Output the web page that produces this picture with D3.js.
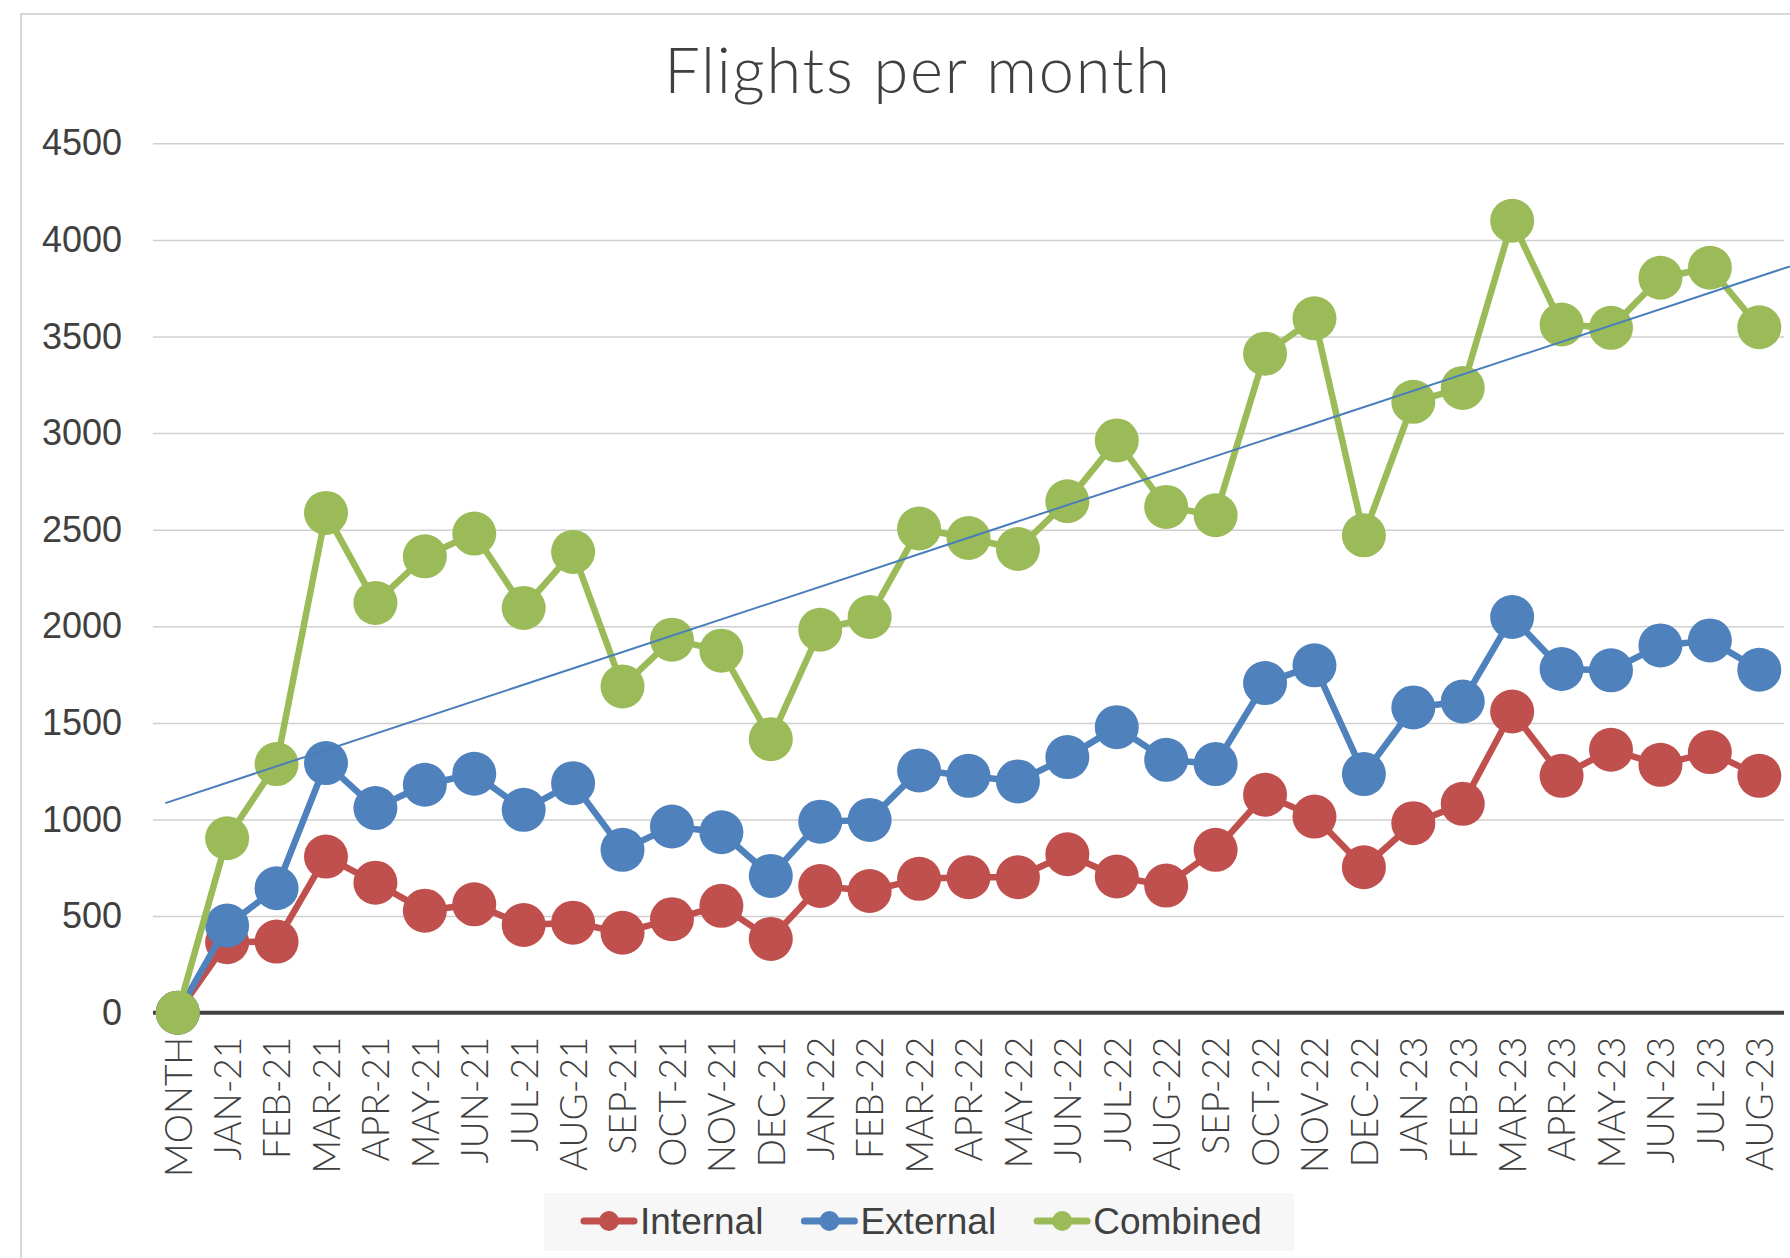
<!DOCTYPE html>
<html>
<head>
<meta charset="utf-8">
<script src="https://cdn.jsdelivr.net/npm/d3@7"></script>
<style>
body { margin:0; background:#fff; }
</style>
</head>
<body>
<div id="chart"></div>
<script>
//Set dimensions of svg
var w=1790;
var h=1258;

//Categories and series
var months=["MONTH","JAN-21","FEB-21","MAR-21","APR-21","MAY-21","JUN-21","JUL-21","AUG-21","SEP-21","OCT-21","NOV-21","DEC-21",
            "JAN-22","FEB-22","MAR-22","APR-22","MAY-22","JUN-22","JUL-22","AUG-22","SEP-22","OCT-22","NOV-22","DEC-22",
            "JAN-23","FEB-23","MAR-23","APR-23","MAY-23","JUN-23","JUL-23","AUG-23"];
var internal=[0,365,368,808,673,528,561,454,466,414,484,553,382,
              656,630,693,701,701,820,705,658,843,1128,1015,753,
              981,1081,1559,1226,1361,1283,1349,1226];
var external=[0,451,644,1292,1059,1180,1237,1050,1188,843,964,934,708,
              989,998,1254,1226,1197,1323,1478,1309,1287,1706,1798,1235,
              1580,1611,2048,1779,1772,1901,1927,1775];
var combined=[0,903,1287,2587,2121,2362,2480,2095,2385,1689,1931,1874,1416,
              1982,2048,2506,2457,2400,2647,2962,2618,2575,3411,3594,2471,
              3162,3234,4099,3562,3545,3804,3856,3548];
var yTicks=[0,500,1000,1500,2000,2500,3000,3500,4000,4500];

//Linear trend of Combined (ends as drawn: category index, value)
var trendIdx=[-0.25,32.62];
var trendVal=[1085,3863];

var seriesNames=["Internal","External","Combined"];
var colors=["#C0504D","#4F81BD","#9BBB59"];
var seriesData=[internal,external,combined];

//Plot area
var plotL=153, plotR=1784, plotT=143.3, plotB=1012.7;

var svg=d3.select("#chart")
          .append("svg")
          .attr("width",w)
          .attr("height",h);

//Chart border
svg.append("rect")
   .attr("x",21)
   .attr("y",14)
   .attr("width",w)
   .attr("height",h+50)
   .attr("fill","none")
   .attr("stroke","#d9d9d9")
   .attr("stroke-width",2);

//Title
svg.append("text")
   .text("Flights per month")
   .attr("x",918)
   .attr("y",93)
   .attr("text-anchor","middle")
   .style("font-family","Lato, 'Open Sans', sans-serif")
   .style("font-weight",300)
   .style("font-size","63px")
   .style("letter-spacing","1.8px")
   .style("fill","#404040");

var x=d3.scalePoint().domain(months).range([plotL,plotR]).padding(0.5);
var y=d3.scaleLinear().domain([0,4500]).range([plotB,plotT]);
var xi=d3.scaleLinear().domain([0,months.length-1]).range([x(months[0]),x(months[months.length-1])]);

//Y axis with gridlines
var yAxis=svg.append("g")
             .attr("transform","translate("+plotL+",0)")
             .call(d3.axisLeft(y).tickValues(yTicks).tickFormat(d3.format("d")).tickSize(-(plotR-plotL)).tickPadding(31));
yAxis.select(".domain").remove();
yAxis.selectAll("line")
     .attr("stroke",function(d) {return d==0 ? "none" : "#d0d0d0";})
     .attr("stroke-width",1.5);
yAxis.selectAll("text")
     .style("font-family","'Liberation Sans', Arial, sans-serif")
     .style("font-size","36px")
     .style("fill","#404040");

//X axis with rotated labels
var xAxis=svg.append("g")
             .attr("transform","translate(0,"+plotB+")")
             .call(d3.axisBottom(x).tickSize(0));
xAxis.select(".domain").remove();
xAxis.selectAll("text")
     .attr("transform","rotate(-90)")
     .attr("text-anchor","end")
     .attr("x",-24)
     .attr("y",0)
     .attr("dy","0.36em")
     .style("font-family","Lato, 'Open Sans', sans-serif")
     .style("font-weight",300)
     .style("font-size","37px")
     .style("fill","#404040");

//Zero line
svg.append("line")
   .attr("x1",plotL)
   .attr("x2",plotR)
   .attr("y1",y(0))
   .attr("y2",y(0))
   .attr("stroke","#404040")
   .attr("stroke-width",4);

//Series lines and markers
var line=d3.line()
           .x(function(d,i) {return x(months[i]);})
           .y(function(d) {return y(d);});

seriesData.forEach(function(vals,k) {
    var g=svg.append("g").attr("class","series");
    g.append("path")
     .datum(vals)
     .attr("d",line)
     .attr("fill","none")
     .attr("stroke",colors[k])
     .attr("stroke-width",6.5)
     .attr("stroke-linejoin","round");
    g.selectAll("circle")
     .data(vals)
     .enter()
     .append("circle")
     .attr("cx",function(d,i) {return x(months[i]);})
     .attr("cy",function(d) {return y(d);})
     .attr("r",22)
     .attr("fill",colors[k]);
});

//Trendline
svg.append("line")
   .attr("x1",xi(trendIdx[0]))
   .attr("y1",y(trendVal[0]))
   .attr("x2",xi(trendIdx[1]))
   .attr("y2",y(trendVal[1]))
   .attr("stroke","#4A7EBB")
   .attr("stroke-width",2);

//Legend
var legend=svg.append("g");
legend.append("rect")
      .attr("x",544)
      .attr("y",1193)
      .attr("width",750)
      .attr("height",58)
      .attr("fill","#f7f7f7");
var lx=581, ly=1221;
seriesNames.forEach(function(name,k) {
    legend.append("line")
          .attr("x1",lx+3)
          .attr("x2",lx+53)
          .attr("y1",ly)
          .attr("y2",ly)
          .attr("stroke",colors[k])
          .attr("stroke-width",7)
          .attr("stroke-linecap","round");
    legend.append("circle")
          .attr("cx",lx+28)
          .attr("cy",ly)
          .attr("r",10)
          .attr("fill",colors[k]);
    var t=legend.append("text")
                .text(name)
                .attr("x",lx+59)
                .attr("y",ly+13)
                .style("font-family","'Liberation Sans', Arial, sans-serif")
                .style("font-size","37px")
                .style("fill","#404040");
    lx=lx+59+t.node().getComputedTextLength()+38;
});
</script>
</body>
</html>
